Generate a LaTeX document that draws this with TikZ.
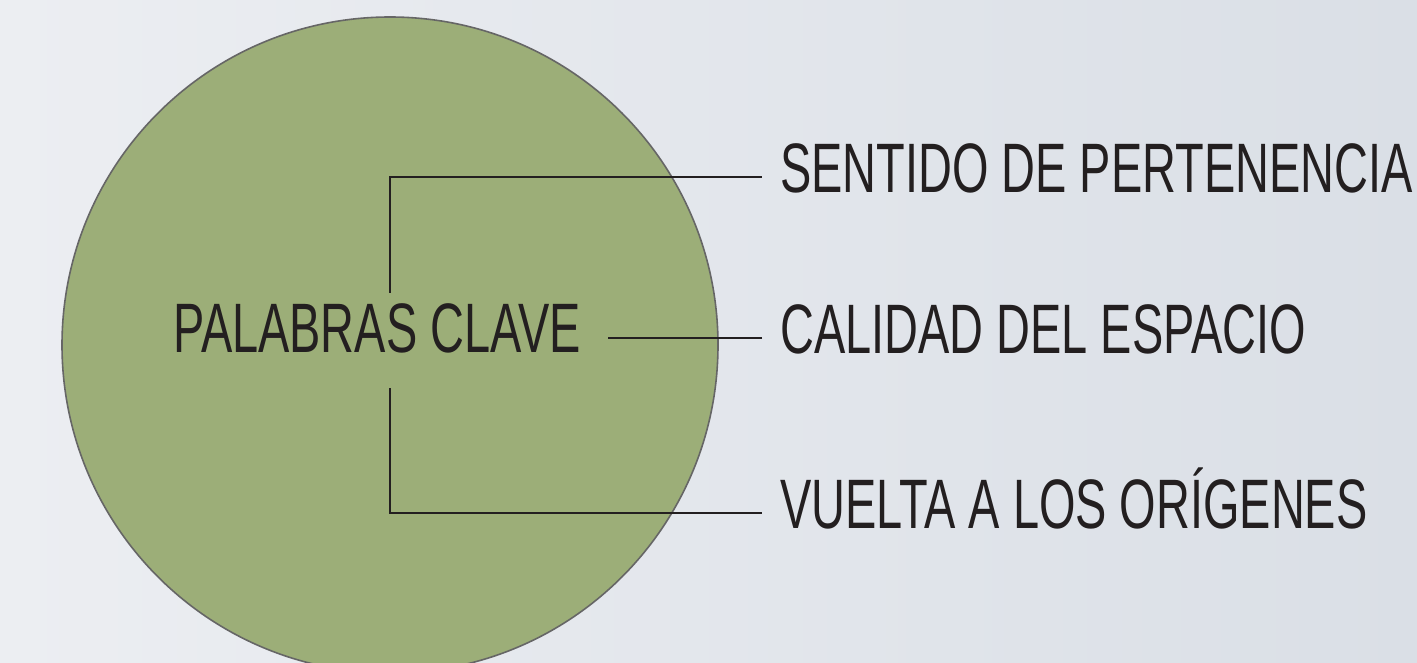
\documentclass[tikz,border=0pt]{standalone}
\usepackage{fontspec}
\newfontfamily\condfont[FakeStretch=0.67]{Liberation Sans}
\usetikzlibrary{positioning}
\definecolor{bgleft}{HTML}{ECEEF2}
\definecolor{bgright}{HTML}{DADFE6}
\definecolor{leaf}{HTML}{9CAE78}
\definecolor{rim}{HTML}{666666}
\definecolor{ink}{HTML}{231F20}
\begin{document}
\begin{tikzpicture}[x=1pt, y=1pt,
    word/.style={font=\condfont\fontsize{70}{84}\selectfont, text=ink, text height=50pt, inner ysep=0pt},
    keyword/.style={word, text depth=25pt, inner xsep=27pt, inner ysep=10pt},
    topic/.style={word, text depth=18pt, inner xsep=18pt, anchor=base west},
    wire/.style={ink, line width=2pt}]
\useasboundingbox (0,0) rectangle (1417,662);
\clip (0,0) rectangle (1417,662);
\shade[left color=bgleft, right color=bgright] (0,0) rectangle (1417,662);

\node[circle, fill=leaf, draw=rim, line width=1.6pt, minimum size=656pt, inner sep=0pt] (circ) at (390,317) {};

\node[keyword, anchor=base west] (key) at (146,309) {PALABRAS CLAVE};
\node[topic] (s1) at (762,469) {SENTIDO DE PERTENENCIA};
\node[topic] (s2) at (762,308) {CALIDAD DEL ESPACIO};
\node[topic] (s3) at (762,133) {VUELTA A LOS ORÍGENES};

\draw[wire] (key.north -| circ.center) |- (s1.west);
\draw[wire] (s2.west) -- (s2.west -| key.east);
\draw[wire] (key.south -| circ.center) |- (s3.west);
\end{tikzpicture}
\end{document}
